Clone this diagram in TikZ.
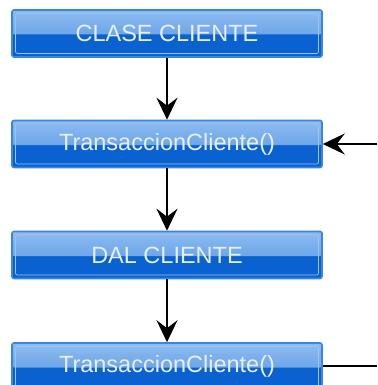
\documentclass[tikz,border=0pt]{standalone}
\usepackage{fontspec}
\setmainfont{Liberation Sans}
\usetikzlibrary{arrows.meta}
\definecolor{boxbot}{HTML}{0A62D0}
\definecolor{boxedge}{HTML}{3A86DD}
\definecolor{boxtop}{HTML}{8EBCF0}
\definecolor{boxmid}{HTML}{4F92E2}
\definecolor{boxinner}{HTML}{9CC4F2}
\definecolor{boxtext}{HTML}{E8EFFA}
\tikzset{
  bluebox/.style={
    minimum width=310pt, minimum height=47pt, inner sep=0pt,
    rounded corners=2pt, fill=boxbot, draw=boxedge, line width=1.6pt,
    text=boxtext, font=\fontsize{23.5pt}{26pt}\selectfont,
    path picture={
      \shade[top color=boxtop, bottom color=boxmid]
        (path picture bounding box.north west) rectangle
        ([yshift=-1pt]path picture bounding box.west -| path picture bounding box.east);
      \draw[boxinner, line width=0.7pt]
        ([shift={(3.5pt,-3.5pt)}]path picture bounding box.north west) rectangle
        ([shift={(-3.5pt,3.5pt)}]path picture bounding box.south east);
    }},
  flow/.style={line width=1.9pt, -{Stealth[length=22pt,width=21pt,inset=8pt]}},
  plain/.style={line width=1.9pt}
}
\begin{document}
\begin{tikzpicture}[x=1pt,y=-1pt]
\useasboundingbox (0,0) rectangle (377,385);
\begin{scope}
\clip (0,0) rectangle (377,385);
\node[bluebox] (clase) at (167,33.5) {CLASE CLIENTE};
\node[bluebox] (trans1) at (167,144) {TransaccionCliente()};
\node[bluebox] (dal) at (167,255) {DAL CLIENTE};
\node[bluebox] (trans2) at (167,366.5) {TransaccionCliente()};
\coordinate (inR) at (377,144);
\coordinate (outR) at (377,366);
\draw[flow] (clase) -- (trans1);
\draw[flow] (trans1) -- (dal);
\draw[flow] (dal) -- (trans2);
\draw[flow] (inR) -- (trans1.east);
\draw[plain] (trans2.east |- outR) -- (outR);
\end{scope}
\end{tikzpicture}
\end{document}
